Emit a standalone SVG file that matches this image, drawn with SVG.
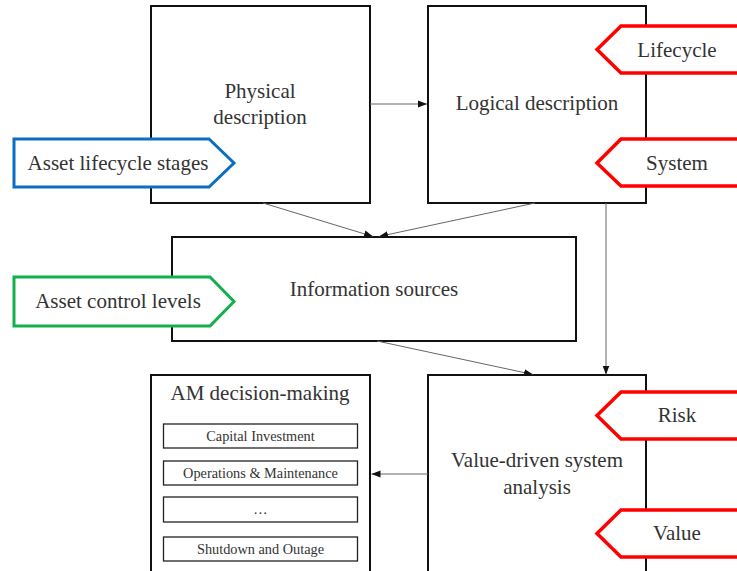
<svg xmlns="http://www.w3.org/2000/svg" width="737" height="571" viewBox="0 0 737 571">
<defs>
<style>
.box{fill:#fff;stroke:#111;stroke-width:2}
.sub{fill:#fff;stroke:#222;stroke-width:1.3}
.t{fill:#333;text-anchor:middle}
.big{font-size:21px}
.sm{font-size:14.3px}
.con{stroke:#666;stroke-width:1;fill:none;marker-end:url(#ah)}
.blue{fill:#fff;stroke:#0a6fc2;stroke-width:3}
.green{fill:#fff;stroke:#12b04c;stroke-width:3}
.red{fill:#fff;stroke:#f00;stroke-width:3.5}
</style>
<marker id="ah" markerWidth="10" markerHeight="8" refX="9" refY="4" orient="auto" markerUnits="userSpaceOnUse">
<path d="M0,0.5 L9,4 L0,7.5 Z" fill="#111"/>
</marker>
</defs>
<rect width="737" height="571" fill="#fff"/>
<g font-family="'Liberation Serif', 'Times New Roman', serif">
<g id="physical">
<rect class="box" x="151" y="6" width="219" height="197"/>
<text class="t big" x="260" y="98">Physical</text>
<text class="t big" x="260" y="124">description</text>
</g>
<g id="logical">
<rect class="box" x="428" y="6" width="218" height="197"/>
<text class="t big" x="537" y="110">Logical description</text>
</g>
<g id="info">
<rect class="box" x="172" y="237" width="404" height="104"/>
<text class="t big" x="374" y="296">Information sources</text>
</g>
<g id="value-analysis">
<rect class="box" x="428" y="375" width="218" height="210"/>
<text class="t big" x="537" y="467">Value-driven system</text>
<text class="t big" x="537" y="494">analysis</text>
</g>
<g id="am">
<rect class="box" x="151" y="375" width="219" height="210"/>
<text class="t big" x="260" y="400">AM decision-making</text>
<g id="capital"><rect class="sub" x="163.5" y="424" width="194" height="24"/><text class="t sm" x="260.5" y="441">Capital Investment</text></g>
<g id="ops"><rect class="sub" x="163.5" y="461" width="194" height="24"/><text class="t sm" x="260.5" y="478">Operations &amp; Maintenance</text></g>
<g id="etc"><rect class="sub" x="163.5" y="497" width="194" height="25"/><text class="t sm" x="260.5" y="514">…</text></g>
<g id="shutdown"><rect class="sub" x="163.5" y="537" width="194" height="24"/><text class="t sm" x="260.5" y="554">Shutdown and Outage</text></g>
</g>

<g id="connectors">
<line class="con" x1="370" y1="104" x2="427" y2="104"/>
<line class="con" x1="263" y1="203" x2="373" y2="236.5"/>
<line class="con" x1="535" y1="203" x2="379" y2="236.5"/>
<line class="con" x1="606" y1="203" x2="606" y2="374.5"/>
<line class="con" x1="377" y1="341" x2="533" y2="374.5"/>
<line class="con" x1="428" y1="474" x2="371.5" y2="474"/>
</g>

<g id="tag-lifecycle-stages">
<polygon class="blue" points="14,139 209,139 234,163 209,187 14,187"/>
<text class="t big" x="118" y="170">Asset lifecycle stages</text>
</g>
<g id="tag-control-levels">
<polygon class="green" points="14,277 210,277 234,301.5 210,326 14,326"/>
<text class="t big" x="118" y="308">Asset control levels</text>
</g>
<g id="tag-lifecycle">
<polygon class="red" points="742,26 621,26 597,49.5 621,73 742,73"/>
<text class="t big" x="677" y="56.5">Lifecycle</text>
</g>
<g id="tag-system">
<polygon class="red" points="742,139 621,139 597,163 621,186 742,186"/>
<text class="t big" x="677" y="169.5">System</text>
</g>
<g id="tag-risk">
<polygon class="red" points="742,392 621,392 597,415.5 621,439 742,439"/>
<text class="t big" x="677" y="422">Risk</text>
</g>
<g id="tag-value">
<polygon class="red" points="742,510 621,510 597,533.5 621,557 742,557"/>
<text class="t big" x="677" y="540">Value</text>
</g>
</g>
</svg>
